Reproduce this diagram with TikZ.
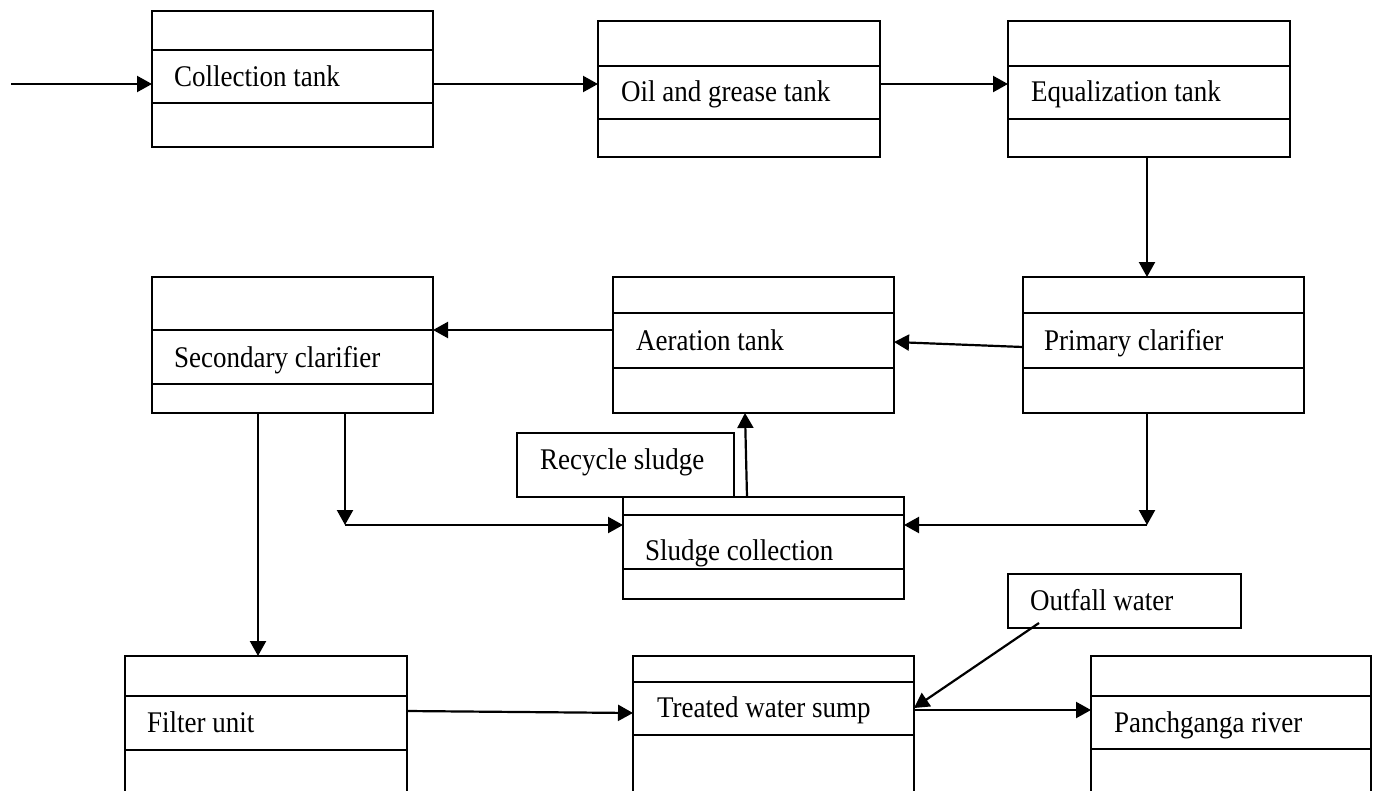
\documentclass[tikz,border=0pt]{standalone}
\usepackage{fontspec}
\setmainfont{Liberation Serif}[FakeStretch=0.9]
\usetikzlibrary{arrows.meta}
\newcommand\tankdiv[2]{\draw ([yshift=-#2pt]#1.north west) -- ([yshift=-#2pt]#1.north east);}
\begin{document}
\begin{tikzpicture}[x=1pt,y=-1pt, line width=2.2pt,
  box/.style={draw, rectangle, anchor=north west, inner sep=0pt, outer sep=0pt},
  lbl/.style={anchor=base west, inner sep=0pt, font=\fontsize{30}{34}\selectfont},
  arr/.style={-{Triangle[length=15pt,width=16pt]}}]
\path[use as bounding box] (0,0) rectangle (1378,790);
\clip (0,0) rectangle (1378,790);
% tanks
\node[box, minimum width=281pt, minimum height=136pt] (ct) at (152,11) {};
\tankdiv{ct}{39}\tankdiv{ct}{92}
\node[lbl] (ctt) at (173,86) {Collection tank};
\node[box, minimum width=282pt, minimum height=136pt] (og) at (598,21) {};
\tankdiv{og}{45}\tankdiv{og}{98}
\node[lbl] (ogt) at (620,101) {Oil and grease tank};
\node[box, minimum width=282pt, minimum height=136pt] (eq) at (1008,21) {};
\tankdiv{eq}{45}\tankdiv{eq}{98}
\node[lbl] (eqt) at (1030,101) {Equalization tank};
\node[box, minimum width=281pt, minimum height=136pt] (sc) at (152,277) {};
\tankdiv{sc}{53}\tankdiv{sc}{107}
\node[lbl] (sct) at (173,367) {Secondary clarifier};
\node[box, minimum width=281pt, minimum height=136pt] (at) at (613,277) {};
\tankdiv{at}{36}\tankdiv{at}{91}
\node[lbl] (att) at (635,350) {Aeration tank};
\node[box, minimum width=281pt, minimum height=136pt] (pc) at (1023,277) {};
\tankdiv{pc}{36}\tankdiv{pc}{91}
\node[lbl] (pct) at (1043,350) {Primary clarifier};
\node[box, minimum width=217pt, minimum height=64pt] (rs) at (517,433) {};
\node[lbl] (rst) at (539,469) {Recycle sludge};
\node[box, minimum width=281pt, minimum height=102pt] (sl) at (623,497) {};
\tankdiv{sl}{18}\tankdiv{sl}{72}
\node[lbl] (slt) at (644,560) {Sludge collection};
\node[box, minimum width=233pt, minimum height=54pt] (ow) at (1008,574) {};
\node[lbl] (owt) at (1029,610) {Outfall water};
\node[box, minimum width=282pt, minimum height=160pt] (fu) at (125,656) {};
\tankdiv{fu}{40}\tankdiv{fu}{94}
\node[lbl] (fut) at (146,732) {Filter unit};
\node[box, minimum width=281pt, minimum height=160pt] (tw) at (633,656) {};
\tankdiv{tw}{26}\tankdiv{tw}{79}
\node[lbl] (twt) at (656,717) {Treated water sump};
\node[box, minimum width=280pt, minimum height=160pt] (pr) at (1091,656) {};
\tankdiv{pr}{40}\tankdiv{pr}{93}
\node[lbl] (prt) at (1113,732) {Panchganga river};
% connectors
\coordinate (src) at (11,84);
\coordinate (r1) at (0,84);
\draw[arr] (src) -- (src-|ct.west);
\draw[arr] (ct.east|-r1) -- (og.west|-r1);
\draw[arr] (og.east|-r1) -- (eq.west|-r1);
\coordinate (v1) at (1147,0);
\draw[arr] (eq.south-|v1) -- (pc.north-|v1);
\coordinate (a1) at (0,347);
\coordinate (a2) at (0,342);
\draw[arr] (pc.west|-a1) -- (at.east|-a2);
\coordinate (r2) at (0,330);
\draw[arr] (at.west|-r2) -- (sc.east|-r2);
\coordinate (k1) at (345,525);
\draw[arr] (sc.south-|k1) -- (k1);
\draw[arr] (k1) -- (k1-|sl.west);
\coordinate (k2) at (1147,525);
\draw[arr] (pc.south-|k2) -- (k2);
\draw[arr] (k2) -- (k2-|sl.east);
\coordinate (v2) at (258,0);
\draw[arr] (sc.south-|v2) -- (fu.north-|v2);
\coordinate (u1) at (747,0);
\coordinate (u2) at (745,0);
\draw[arr] (sl.north-|u1) -- (at.south-|u2);
\coordinate (f1) at (0,711);
\coordinate (f2) at (0,713);
\draw[arr] (fu.east|-f1) -- (tw.west|-f2);
\coordinate (o2) at (0,708);
\draw[arr] ([xshift=31pt,yshift=5pt]ow.south west) -- (tw.east|-o2);
\coordinate (t1) at (0,710);
\draw[arr] (tw.east|-t1) -- (pr.west|-t1);
\end{tikzpicture}
\end{document}
